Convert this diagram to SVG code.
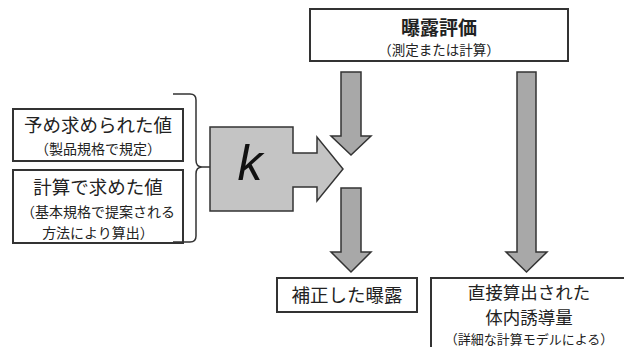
<svg xmlns="http://www.w3.org/2000/svg" width="624" height="347" viewBox="0 0 624 347">
<style>
.box{fill:#fff;stroke:#333;stroke-width:2}
.arr{fill:#a8a8a8;stroke:#333;stroke-width:1.5;stroke-linejoin:miter}
.karr{fill:#c4c4c4;stroke:#333;stroke-width:1.5}
.t{font-family:"Noto Sans CJK JP","Noto Sans CJK SC",sans-serif;fill:#222;text-anchor:middle}
.big{font-size:18.5px}
.sm{font-size:14px}
.brace{fill:none;stroke:#333;stroke-width:1.5}
</style>
<rect width="624" height="347" fill="#fff"/>
<g id="exposure-eval">
<rect class="box" x="310" y="9" width="258" height="52"/>
<text class="t" x="439" y="35" style="font-size:19px;font-weight:bold">曝露評価</text>
<text class="t" x="439" y="55" style="font-size:13.5px">（測定または計算）</text>
</g>
<g id="predefined">
<rect class="box" x="13" y="109" width="170" height="52"/>
<text class="t big" x="98" y="132">予め求められた値</text>
<text class="t sm" x="98" y="154">（製品規格で規定）</text>
</g>
<g id="calculated">
<rect class="box" x="13" y="170" width="170" height="73"/>
<text class="t big" x="98" y="194">計算で求めた値</text>
<text class="t sm" x="98" y="217">（基本規格で提案される</text>
<text class="t sm" x="98" y="237.5">方法により算出）</text>
</g>
<g id="corrected">
<rect class="box" x="277" y="278" width="140" height="34"/>
<text class="t big" x="347" y="302">補正した曝露</text>
</g>
<g id="induced">
<rect class="box" x="431" y="278" width="200" height="80"/>
<text class="t" x="529" y="299" style="font-size:17.5px">直接算出された</text>
<text class="t" x="529" y="324" style="font-size:17.5px">体内誘導量</text>
<text class="t" x="529" y="343.5" style="font-size:13px">（詳細な計算モデルによる）</text>
</g>
<g id="k-node">
<path class="karr" d="M210,127 H293 V153 H317 V137 L343,169 L317,201 V187 H293 V211 H210 Z"/>
<text x="250" y="180" style="font-family:'Liberation Sans',Arial,sans-serif;font-style:italic;font-size:50px;fill:#111;text-anchor:middle">k</text>
</g>
<g id="connectors">
<path class="brace" d="M173,94 H190 Q196,94 196,100 V160 Q196,167 202,167 H210 M202,167 Q196,167 196,174 V236 Q196,242 190,242 H173"/>
<path class="arr" d="M341,72 H361 V136 H371 L351,155 L331,136 H341 Z"/>
<path class="arr" d="M341,188 H361 V252 H371 L351,272 L331,252 H341 Z"/>
<path class="arr" d="M517,72 H536 V252 H547 L526.5,272 L506,252 H517 Z"/>
</g>
</svg>
